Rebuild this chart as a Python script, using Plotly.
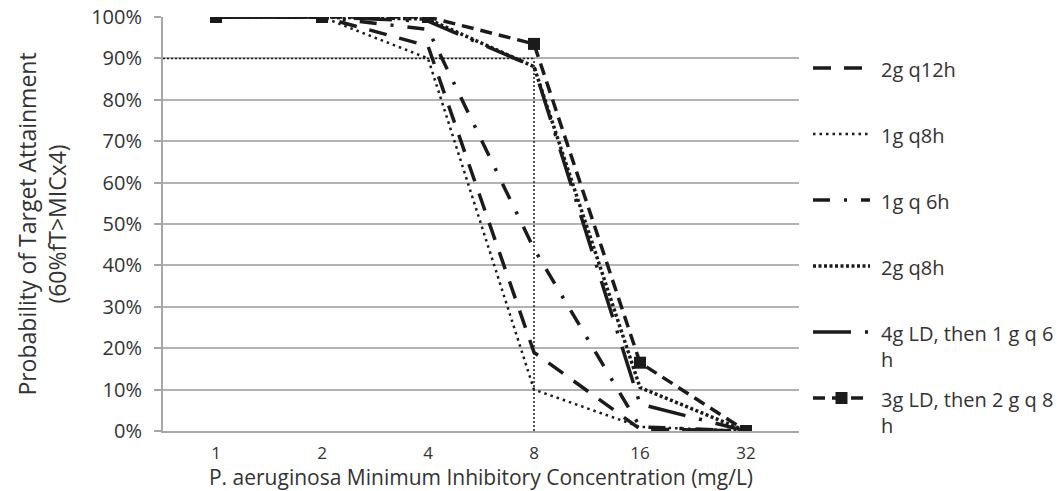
import plotly.graph_objects as go

# ---------------- data ----------------
mic_labels = ["1", "2", "4", "8", "16", "32"]

series_names = [
    "2g q12h",
    "1g q8h",
    "1g q 6h",
    "2g q8h",
    "4g LD, then 1 g q 6<br>h",
    "3g LD, then 2 g q 8<br>h",
]

pta_2g_q12h = [100, 100, 93, 19, 0.5, 0]
pta_1g_q8h = [100, 100, 90, 10, 1, 0]
pta_1g_q6h = [100, 100, 97, 44, 1, 0]
pta_2g_q8h = [100, 100, 99.5, 88, 10.5, 0]
pta_4g_ld = [100, 100, 99, 88, 6.5, 0]
pta_3g_ld = [100, 100, 100, 93.5, 16.5, 0]

target_pta = 90          # horizontal reference (%)
target_mic = "8"         # vertical reference (MIC category)

series_values = [pta_2g_q12h, pta_1g_q8h, pta_1g_q6h, pta_2g_q8h, pta_4g_ld, pta_3g_ld]

# ---------------- styles ----------------
INK = "#1b1b1b"
styles = [
    dict(width=3.5, dash="18px,13px", marker=False),
    dict(width=2.5, dash="2.5px,4px", marker=False),
    dict(width=3.5, dash="17px,14px,3px,14px", marker=False),
    dict(width=3.5, dash="3px,2.5px", marker=False),
    dict(width=3.5, dash="38px,14px,3px,14px", marker=False),
    dict(width=3.5, dash="12px,7px", marker=True),
]

FONT = "Open Sans"
TXT = "#333333"

fig = go.Figure()

for name, vals, st in zip(series_names, series_values, styles):
    fig.add_trace(go.Scatter(
        x=mic_labels,
        y=vals,
        name=name,
        mode="lines+markers" if st["marker"] else "lines",
        line=dict(color=INK, width=st["width"], dash=st["dash"]),
        marker=dict(symbol="square", size=12, color=INK) if st["marker"] else None,
        showlegend=False,
    ))

tgt_idx = mic_labels.index(target_mic)

# 90% target reference lines (dotted)
fig.add_shape(type="line", xref="x", yref="y", x0=-0.5, x1=tgt_idx,
              y0=target_pta, y1=target_pta,
              line=dict(color=INK, width=1.5, dash="2px,2px"))
fig.add_shape(type="line", xref="x", yref="y", x0=tgt_idx, x1=tgt_idx,
              y0=0, y1=target_pta,
              line=dict(color=INK, width=1.5, dash="2px,2px"))

# ---------------- manual legend ----------------
PLOT_L, PLOT_R, PLOT_T, PLOT_B = 163, 799, 17, 431
pw, ph = PLOT_R - PLOT_L, PLOT_B - PLOT_T


def px_x(px):
    return (px - PLOT_L) / pw


def px_y(py):
    return (PLOT_B - py) / ph


leg_x0, leg_x1, leg_tx = 813, 870, 879
leg_y0, leg_step = 68, 66
for i, (name, st) in enumerate(zip(series_names, styles)):
    py = leg_y0 + i * leg_step
    fig.add_shape(type="line", xref="paper", yref="paper",
                  x0=px_x(leg_x0), x1=px_x(leg_x1), y0=px_y(py), y1=px_y(py),
                  line=dict(color=INK, width=st["width"], dash=st["dash"]))
    if st["marker"]:
        cx = (leg_x0 + leg_x1) / 2
        fig.add_shape(type="rect", xref="paper", yref="paper",
                      x0=px_x(cx - 6), x1=px_x(cx + 6),
                      y0=px_y(py + 6), y1=px_y(py - 6),
                      line=dict(width=0), fillcolor=INK)
    fig.add_annotation(xref="paper", yref="paper", x=px_x(leg_tx), y=px_y(py - 14),
                       xanchor="left", yanchor="top", align="left",
                       text=name, showarrow=False,
                       font=dict(family=FONT, size=20, color=TXT))

fig.update_layout(
    width=1057, height=491,
    margin=dict(l=PLOT_L, r=1057 - PLOT_R, t=PLOT_T, b=491 - PLOT_B),
    paper_bgcolor="white", plot_bgcolor="white",
    font=dict(family=FONT, size=20, color=TXT),
    showlegend=False,
)

fig.update_xaxes(
    type="category",
    range=[-0.5, len(mic_labels) - 0.5],
    showgrid=False,
    showline=True, linecolor="#a6a6a6", linewidth=2,
    ticks="outside", ticklen=6, tickcolor="rgba(0,0,0,0)",
    tickfont=dict(family=FONT, size=17, color=TXT),
    title=dict(text="P. aeruginosa Minimum Inhibitory Concentration (mg/L)",
               font=dict(family=FONT, size=21, color=TXT), standoff=2),
    automargin=False,
)

fig.update_yaxes(
    range=[0, 100], dtick=10, ticksuffix="%",
    showgrid=True, gridcolor="#b3b3b3", gridwidth=1.5,
    zeroline=False,
    showline=True, linecolor="#a6a6a6", linewidth=2,
    ticks="outside", ticklen=7, tickcolor="#a6a6a6", tickwidth=1.5,
    ticklabelstandoff=8,
    tickfont=dict(family=FONT, size=20, color=TXT),
    title=dict(text="Probability of Target Attainment<br>(60%fT&gt;MICx4)",
               font=dict(family=FONT, size=23, color=TXT), standoff=18),
    automargin=False,
)

fig.write_html("out.html")
